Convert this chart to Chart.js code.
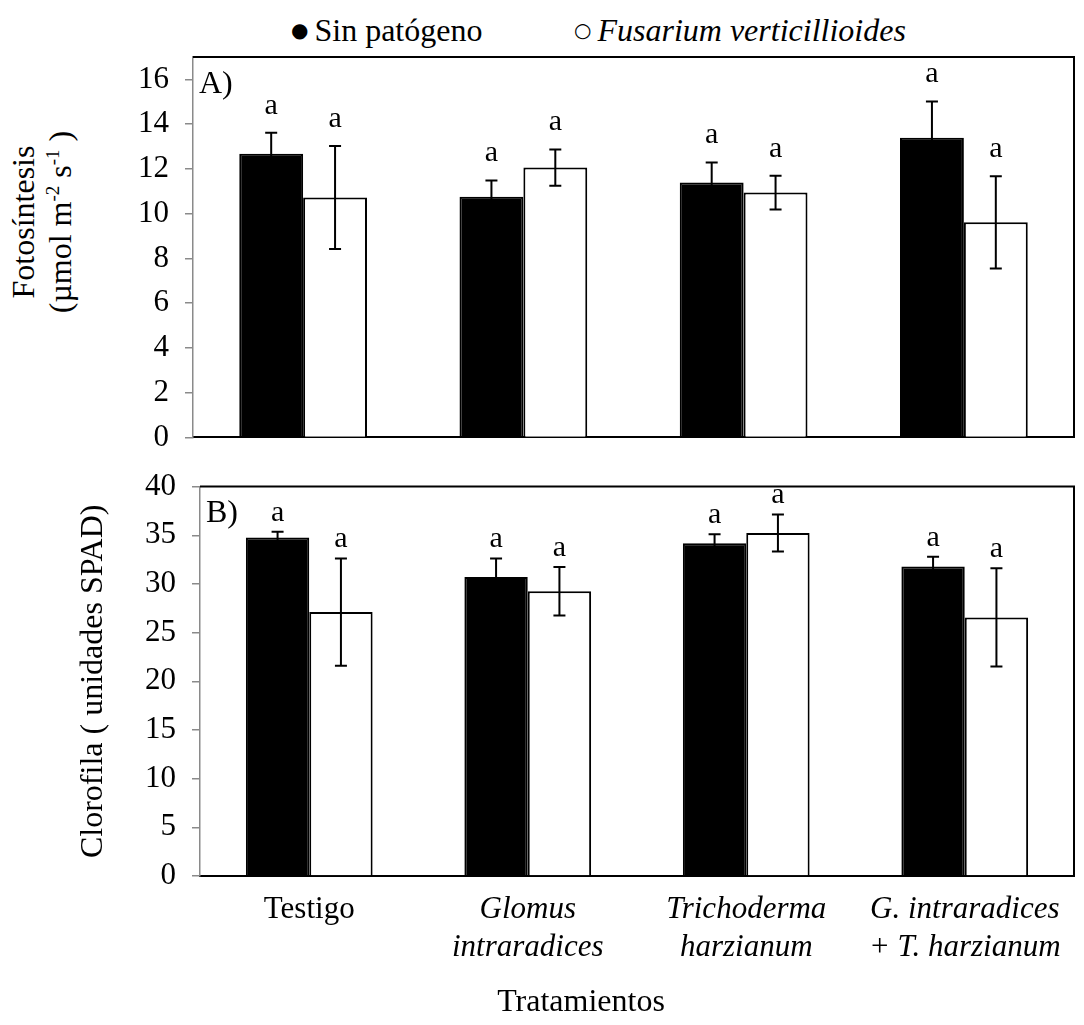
<!DOCTYPE html>
<html>
<head>
<meta charset="utf-8">
<script src="https://cdn.jsdelivr.net/npm/chart.js@4.4.1/dist/chart.umd.min.js"></script>
<style>
  html, body { margin: 0; padding: 0; background: #fff; }
  #page { position: relative; width: 1084px; height: 1025px; overflow: hidden;
          font-family: "Liberation Serif", "Times New Roman", serif; color: #000; }
  #boxA { position: absolute; left: 0; top: 0; width: 1084px; height: 472px; }
  #boxB { position: absolute; left: 0; top: 452px; width: 1084px; height: 573px; }
  .leg { position: absolute; top: 10px; font-size: 32px; line-height: 40px; white-space: nowrap; }
  .leg .mark { font-family: "DejaVu Sans", sans-serif; font-size: 20px; margin-right: 6px;
               position: relative; top: -4px; }
  #titleA { position: absolute; left: -158px; top: 185px; width: 400px; height: 74px;
            transform: rotate(-90deg); text-align: center; font-size: 32px; line-height: 37px; }
  #titleA sup { font-size: 19px; line-height: 0; }
  #titleX { position: absolute; left: 381px; width: 400px; top: 980px; text-align: center;
            font-size: 32px; line-height: 40px; }
</style>
</head>
<body>
<div id="page">
  <div id="leg0" class="leg" style="left:291px"></div>
  <div id="leg1" class="leg" style="left:574px"></div>
  <div id="titleA">Fotosíntesis<br>(µmol m<sup>-2</sup> s<sup>-1</sup> )</div>
  <div id="boxA"><canvas id="chartA"></canvas></div>
  <div id="boxB"><canvas id="chartB"></canvas></div>
  <div id="titleX">Tratamientos</div>
</div>
<script>
const treatments = ["Testigo", ["Glomus", "intraradices"], ["Trichoderma", "harzianum"], ["G. intraradices", "+ T. harzianum"]];
const seriesNames = ["Sin patógeno", "Fusarium verticillioides"];

// A) fotosíntesis
const fotoSin = [12.68, 10.75, 11.39, 13.39];
const fotoSinErr = [0.93, 0.73, 0.90, 1.62];
const fotoFus = [10.72, 12.06, 10.94, 9.61];
const fotoFusErr = [2.30, 0.81, 0.75, 2.06];
const fotoTicks = [0, 2, 4, 6, 8, 10, 12, 14, 16];

// B) clorofila
const cloroSin = [34.76, 30.71, 34.18, 31.80];
const cloroSinErr = [0.60, 1.90, 0.92, 1.00];
const cloroFus = [27.11, 29.25, 35.24, 26.56];
const cloroFusErr = [5.50, 2.50, 1.90, 5.05];
const cloroTicks = [0, 5, 10, 15, 20, 25, 30, 35, 40];

const lettersA = [["a", "a", "a", "a"], ["a", "a", "a", "a"]];
const lettersB = [["a", "a", "a", "a"], ["a", "a", "a", "a"]];

const FONT = "'Liberation Serif', 'Times New Roman', serif";
const AXIS_GREY = "#8a8a8a";

// legend row
document.getElementById("leg0").innerHTML = '<span class="mark">●</span>' + seriesNames[0];
document.getElementById("leg1").innerHTML = '<span class="mark">○</span><i>' + seriesNames[1] + '</i>';

// error bars + significance letters + panel tag + top/right frame
const extras = {
  id: "extras",
  afterDatasetsDraw(chart, args, opts) {
    const ctx = chart.ctx;
    const y = chart.scales.y;
    const area = chart.chartArea;
    ctx.save();
    chart.data.datasets.forEach((ds, di) => {
      const meta = chart.getDatasetMeta(di);
      meta.data.forEach((bar, i) => {
        const v = ds.data[i], e = ds.errors[i];
        const yt = y.getPixelForValue(v + e);
        const yb = y.getPixelForValue(v - e);
        ctx.strokeStyle = "#000";
        ctx.lineWidth = 2;
        ctx.beginPath();
        ctx.moveTo(bar.x, yt); ctx.lineTo(bar.x, yb);
        ctx.moveTo(bar.x - 6, yt); ctx.lineTo(bar.x + 6, yt);
        ctx.moveTo(bar.x - 6, yb); ctx.lineTo(bar.x + 6, yb);
        ctx.stroke();
        ctx.fillStyle = "#000";
        ctx.font = "30px " + FONT;
        ctx.textAlign = "center";
        ctx.textBaseline = "middle";
        ctx.fillText(opts.letters[di][i], bar.x, yt - opts.letterGap);
      });
    });
    ctx.strokeStyle = "#000";
    ctx.lineWidth = 2;
    ctx.beginPath();
    ctx.moveTo(area.left, area.top);
    ctx.lineTo(area.right, area.top);
    ctx.lineTo(area.right, area.bottom);
    ctx.stroke();
    ctx.font = "32px " + FONT;
    ctx.textAlign = "left";
    ctx.textBaseline = "middle";
    ctx.fillText(opts.tag, area.left + 6, area.top + opts.tagDy);
    ctx.restore();
  }
};

function makeDatasets(sin, sinErr, fus, fusErr) {
  return [
    { label: seriesNames[0], data: sin, errors: sinErr, backgroundColor: "#000",
      borderColor: "#000", borderWidth: 2, categoryPercentage: 0.58, barPercentage: 1.0 },
    { label: seriesNames[1], data: fus, errors: fusErr, backgroundColor: "#fff",
      borderColor: "#000", borderWidth: 2, categoryPercentage: 0.58, barPercentage: 1.0 }
  ];
}

function yAxis(max, ticks, width, title) {
  return {
    min: 0, max: max,
    afterBuildTicks: s => { s.ticks = ticks.map(v => ({ value: v })); },
    afterFit: s => { s.width = width; },
    ticks: { color: "#000", padding: 16, font: { family: FONT, size: 31 } },
    grid: { drawOnChartArea: false, drawTicks: true, tickLength: 8, color: AXIS_GREY, lineWidth: 1.5 },
    border: { color: AXIS_GREY, width: 1.5 },
    title: title
  };
}

new Chart(document.getElementById("chartA"), {
  type: "bar",
  data: { labels: treatments, datasets: makeDatasets(fotoSin, fotoSinErr, fotoFus, fotoFusErr) },
  options: {
    responsive: true, maintainAspectRatio: false, animation: false,
    layout: { padding: { top: 57, right: 10, bottom: 0, left: 0 } },
    plugins: { legend: { display: false }, tooltip: { enabled: false },
               extras: { letters: lettersA, letterGap: 27, tag: "A)", tagDy: 28 } },
    scales: {
      x: { ticks: { display: false }, grid: { display: false, drawTicks: false },
           border: { color: "#000", width: 2 }, afterFit: s => { s.height = 0; } },
      y: yAxis(17, fotoTicks, 193, { display: false })
    }
  },
  plugins: [extras]
});

new Chart(document.getElementById("chartB"), {
  type: "bar",
  data: { labels: treatments, datasets: makeDatasets(cloroSin, cloroSinErr, cloroFus, cloroFusErr) },
  options: {
    responsive: true, maintainAspectRatio: false, animation: false,
    layout: { padding: { top: 0, right: 10, bottom: 0, left: 0 } },
    plugins: { legend: { display: false }, tooltip: { enabled: false },
               extras: { letters: lettersB, letterGap: 19, tag: "B)", tagDy: 27 } },
    scales: {
      x: {
        grid: { display: false, drawTicks: false },
        border: { color: "#000", width: 2 },
        afterFit: s => { s.height = 149; },
        ticks: {
          color: "#000", padding: 14, maxRotation: 0, autoSkip: false,
          font: c => ({ family: FONT, size: 31, lineHeight: 1.25, style: c.index === 0 ? "normal" : "italic" })
        }
      },
      y: yAxis(40, cloroTicks, 200, {
        display: true, text: "Clorofila ( unidades SPAD)", color: "#000",
        font: { family: FONT, size: 32 }, padding: { top: 74, bottom: 0 }
      })
    }
  },
  plugins: [extras]
});
</script>
</body>
</html>
